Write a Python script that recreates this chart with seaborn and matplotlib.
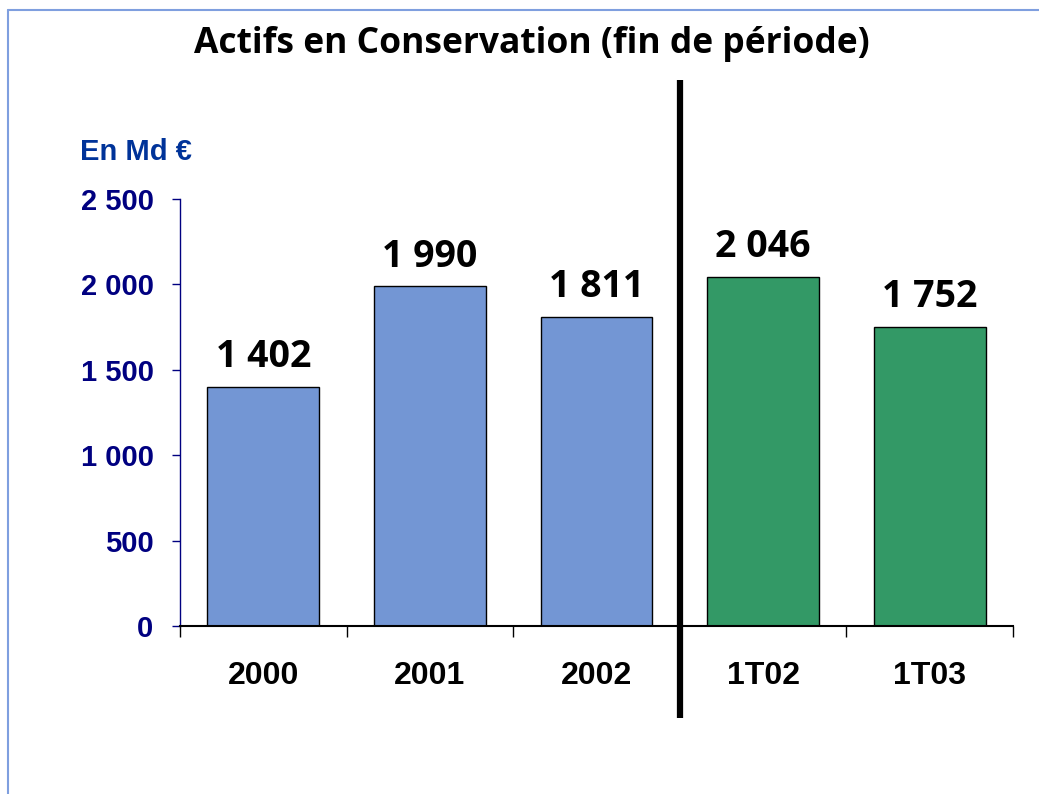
import pandas as pd
import matplotlib.pyplot as plt
import matplotlib.transforms as mtransforms
from matplotlib.lines import Line2D
import seaborn as sns

# Chart data
periods = ['2000', '2001', '2002', '1T02', '1T03']
assets = [1402, 1990, 1811, 2046, 1752]
groups = ['annuel', 'annuel', 'annuel', 'trimestre', 'trimestre']
value_labels = ['1 402', '1 990', '1 811', '2 046', '1 752']
y_ticks = [0, 500, 1000, 1500, 2000, 2500]
y_tick_labels = ['0', '500', '1 000', '1 500', '2 000', '2 500']

df = pd.DataFrame({'Période': periods, 'Actifs': assets, 'Groupe': groups})

sns.set_style('white')
plt.rcParams['font.family'] = ['Liberation Sans', 'DejaVu Sans']
plt.rcParams['text.color'] = 'black'

fig = plt.figure(figsize=(10.39, 7.94), dpi=100)
ax = fig.add_axes([0.1732, 0.2116, 0.8018, 0.5378])

sns.barplot(data=df, x='Période', y='Actifs', hue='Groupe',
            palette={'annuel': '#7396D4', 'trimestre': '#339966'},
            saturation=1, dodge=False, width=0.67, edgecolor='black',
            linewidth=1, legend=False, ax=ax)

ax.set_xlim(-0.5, 4.5)
ax.set_ylim(0, 2500)
ax.set_xlabel('')
ax.set_ylabel('')

# y axis
ax.set_yticks(y_ticks)
ax.set_yticklabels(y_tick_labels, fontsize=21, fontweight='bold', color='#000080')
ax.tick_params(axis='y', length=6, width=1, color='#000080', pad=13, left=True)

# x axis: ticks at category boundaries, labels centred
ax.set_xticks([i - 0.5 for i in range(len(periods) + 1)])
ax.set_xticklabels([''] * (len(periods) + 1))
ax.set_xticks(range(len(periods)), minor=True)
ax.set_xticklabels(periods, minor=True, fontsize=23, fontweight='bold', color='black')
ax.tick_params(axis='x', which='major', length=8, width=1, color='black', bottom=True)
ax.tick_params(axis='x', which='minor', length=0, pad=25)

for side in ['top', 'right']:
    ax.spines[side].set_visible(False)
ax.spines['left'].set_color('#000080')
ax.spines['left'].set_linewidth(1)
ax.spines['bottom'].set_color('black')
ax.spines['bottom'].set_linewidth(1.5)
ax.grid(False)

# value labels above bars
for i, (v, lab) in enumerate(zip(assets, value_labels)):
    ax.annotate(lab, (i, v), xytext=(0, 14), textcoords='offset points',
                ha='center', va='baseline', fontsize=27, fontweight='bold',
                color='black', family=['Open Sans', 'DejaVu Sans'])

# separator between annual and quarterly figures
trans = mtransforms.blended_transform_factory(ax.transData, ax.transAxes)
ax.plot([2.5, 2.5], [-0.215, 1.279], color='black', linewidth=4.5,
        transform=trans, clip_on=False, solid_capstyle='butt')

ax.text(-0.12, 1.091, 'En Md €', transform=ax.transAxes, fontsize=21,
        fontweight='bold', color='#003399', ha='left', va='baseline')

fig.text(0.512, 0.933, 'Actifs en Conservation (fin de période)',
         ha='center', va='baseline', fontsize=25.5, fontweight='bold',
         color='black', family=['Open Sans', 'DejaVu Sans'])

# slide frame
fig.add_artist(Line2D([0.0077, 0.0077], [0, 0.9874], color='#7F9FDF', linewidth=1.5))
fig.add_artist(Line2D([0.0077, 1.0], [0.9874, 0.9874], color='#7F9FDF', linewidth=1.5))

fig.savefig('out.png', dpi=100)
